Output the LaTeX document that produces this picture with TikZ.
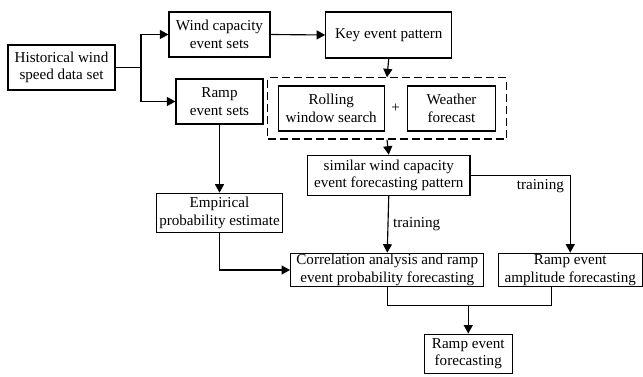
\documentclass[tikz,border=0pt]{standalone}
\usepackage{fontspec}
\setmainfont{Liberation Serif}
\usepackage{tikz}
\usetikzlibrary{arrows.meta, fit}

\begin{document}
\begin{tikzpicture}[
  blk/.style={draw, line width=1.3pt, inner sep=1pt, align=center,
              font=\fontsize{17.2}{19.9}\selectfont},
  arr/.style={-{Triangle[length=0.34cm, width=0.36cm]}, line width=1.3pt},
  lin/.style={line width=1.3pt},
  lbl/.style={font=\fontsize{17.2}{19.9}\selectfont, inner sep=1pt},
]
\useasboundingbox (0,0) rectangle (25.72,-15.08);

\node[blk, minimum width=4.28cm, minimum height=1.8cm] (hist) at (2.46,-2.70) {Historical wind\\speed data set};
\node[blk, minimum width=4.04cm, minimum height=1.8cm] (wcap) at (8.78,-1.38) {Wind capacity\\event sets};
\node[blk, minimum width=3.48cm, minimum height=1.8cm] (ramp) at (8.78,-4.06) {Ramp\\event sets};
\node[blk, minimum width=5.04cm, minimum height=1.84cm] (key) at (15.55,-1.40) {Key event pattern};

\node[blk, minimum width=4.24cm, minimum height=1.8cm] (roll) at (13.25,-4.34) {Rolling\\window search};
\node[lbl] (plus) at (15.83,-4.32) {+};
\node[blk, minimum width=3.54cm, minimum height=1.8cm] (wthr) at (18.06,-4.34) {Weather\\forecast};
\node[draw, dash pattern=on 0.32cm off 0.16cm, line width=1.3pt, inner xsep=0.4cm, inner ysep=0.3cm, fit=(roll)(wthr)] (srch) {};

\node[blk, minimum width=6.5cm, minimum height=1.6cm] (sim) at (15.55,-7.01) {similar wind capacity\\event forecasting pattern};
\node[blk, minimum width=5.02cm, minimum height=1.56cm] (emp) at (8.78,-8.51) {Empirical\\probability estimate};
\node[blk, minimum width=7.73cm, minimum height=1.34cm] (corr) at (15.49,-10.8) {Correlation analysis and ramp\\event probability forecasting};
\node[blk, minimum width=5.76cm, minimum height=1.34cm] (amp) at (22.81,-10.8) {Ramp event\\amplitude forecasting};
\node[blk, minimum width=3.52cm, minimum height=1.57cm] (fore) at (18.73,-14.15) {Ramp event\\forecasting};

\coordinate (split) at (5.64,-2.70);
\coordinate (ampout) at (22.07,-11.47);
\coordinate (join) at (18.73,-12.23);

\draw[lin] (hist.east) -- (split);
\draw[arr] (split) |- (wcap.west);
\draw[arr] (split) |- (ramp.west);
\draw[arr] (wcap.east) -- (key.west);
\draw[arr] (key.south) -- (srch.north);
\draw[arr] (srch.south) -- (sim.north);
\draw[arr] (ramp.south) -- (emp.north);
\draw[arr] (emp.south) |- (corr.west);
\draw[arr] (sim.south) -- node[lbl, right=0.15cm] (trn1) {training} (corr.north);
\draw[arr] (sim.east) -| node[lbl, pos=0.35, below=0.1cm] (trn2) {training} (amp.north);
\draw[lin] (corr.south) |- (join) -| (ampout);
\draw[arr] (join) -- (fore.north);
\end{tikzpicture}
\end{document}
